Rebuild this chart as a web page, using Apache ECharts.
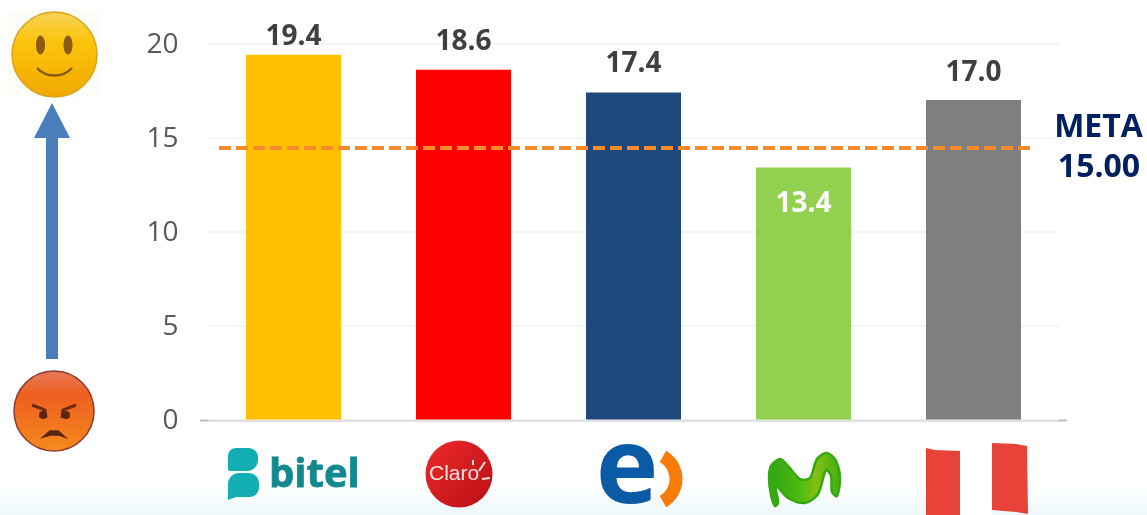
<!DOCTYPE html>
<html>
<head>
<meta charset="utf-8">
<title>Meta 15.00</title>
<style>
  html, body { margin: 0; padding: 0; background: #fff; }
  #chart { width: 1147px; height: 515px; }
</style>
<script src="https://cdn.jsdelivr.net/npm/echarts@6/dist/echarts.min.js"></script>
</head>
<body>
<div id="chart"></div>
<script>
// datos
const categories = ['Bitel', 'Claro', 'Entel', 'Movistar', 'Peru'];
const values = [19.4, 18.6, 17.4, 13.4, 17.0];
const metaDrawn = 14.47;
const metaText = ['META', '15.00'];

const chart = echarts.init(document.getElementById('chart'));
const font = '"Open Sans", sans-serif';

// estilo por barra
const barColors = ['#ffc000', '#ff0000', '#1f497d', '#92d050', '#7f7f7f'];
const labelGaps = [4, 14, 14, -50, 13];

// fondo, flecha, caritas y logos: adornos, no son datos
const decor = [
  { type: 'rect', z: -1, shape: { x: 0, y: 485, width: 1147, height: 30 },
    style: { fill: new echarts.graphic.LinearGradient(0, 0, 0, 1, [
      { offset: 0, color: '#ffffff' }, { offset: 1, color: '#edf8fb' }]) } },
  { type: 'line', shape: { x1: 200, y1: 420.5, x2: 1067, y2: 420.5 }, style: { stroke: '#bfbfbf', lineWidth: 2 } },

  // flecha
  { type: 'rect', shape: { x: 46, y: 136, width: 12, height: 223 }, style: { fill: '#4a7ebb' } },
  { type: 'polygon', shape: { points: [[52, 103], [70, 138], [34, 138]] }, style: { fill: '#4a7ebb' } },

  // carita feliz
  { type: 'rect', shape: { x: 8, y: 10, width: 90, height: 87 }, style: { fill: '#fdfdf8' } },
  { type: 'circle', shape: { cx: 54.5, cy: 54.5, r: 42.5 },
    style: { fill: new echarts.graphic.LinearGradient(0, 0, 0, 1, [
      { offset: 0, color: '#f5d35a' }, { offset: 0.35, color: '#fcc40c' }, { offset: 1, color: '#f0a800' }]),
      stroke: '#d9a520', lineWidth: 1.5 } },
  { type: 'ellipse', shape: { cx: 40.5, cy: 45, rx: 4.5, ry: 9.5 }, style: { fill: '#8a5a10' } },
  { type: 'ellipse', shape: { cx: 68, cy: 45, rx: 4.5, ry: 9.5 }, style: { fill: '#8a5a10' } },
  { type: 'bezierCurve', shape: { x1: 37, y1: 68, cpx1: 46, cpy1: 78, cpx2: 63, cpy2: 78, x2: 72, y2: 68 },
    style: { stroke: '#8a5a10', fill: 'none', lineWidth: 2.5 } },

  // carita enojada
  { type: 'circle', shape: { cx: 54, cy: 411, r: 40 },
    style: { fill: new echarts.graphic.LinearGradient(0, 0, 0, 1, [
      { offset: 0, color: '#e8795a' }, { offset: 0.3, color: '#ee5f20' }, { offset: 1, color: '#f58a1c' }]),
      stroke: '#8c3a2c', lineWidth: 1.5 } },
  { type: 'polyline', shape: { points: [[32, 405], [45, 410], [46, 418]] }, style: { stroke: '#6e2a10', fill: 'none', lineWidth: 3 } },
  { type: 'polyline', shape: { points: [[76, 405], [63, 410], [62, 418]] }, style: { stroke: '#6e2a10', fill: 'none', lineWidth: 3 } },
  { type: 'circle', shape: { cx: 43, cy: 415, r: 4 }, style: { fill: '#5a2410' } },
  { type: 'circle', shape: { cx: 66, cy: 415, r: 4 }, style: { fill: '#5a2410' } },
  { type: 'polygon', shape: { points: [[43, 437], [50, 431], [58, 431], [65, 437], [59, 435], [50, 435]] },
    style: { fill: '#5a2410', stroke: '#5a2410', lineWidth: 1.5 } },

  // bitel
  { type: 'rect', shape: { x: 228, y: 448, width: 30, height: 23, r: [8, 9, 11, 2] }, style: { fill: '#12aeb1' } },
  { type: 'rect', shape: { x: 228, y: 473, width: 31, height: 24, r: [11, 10, 9, 2] }, style: { fill: '#12aeb1' } },
  { type: 'polygon', shape: { points: [[228, 490], [236, 497], [228, 500]] }, style: { fill: '#12aeb1' } },
  { type: 'text', style: { x: 269, y: 496, text: 'bitel', fill: '#12898f', stroke: '#12898f', lineWidth: 0.8, font: 'bold 40px ' + font, textVerticalAlign: 'bottom' } },

  // claro
  { type: 'circle', shape: { cx: 459, cy: 474, r: 33.5 },
    style: { fill: new echarts.graphic.LinearGradient(0, 0, 1, 1, [
      { offset: 0, color: '#ee2a2a' }, { offset: 1, color: '#b80f14' }]) } },
  { type: 'text', style: { x: 429, y: 474, text: 'Claro', fill: '#fbe3e0', font: '21px "Liberation Sans", sans-serif', textVerticalAlign: 'middle' } },
  { type: 'line', shape: { x1: 473, y1: 460, x2: 473, y2: 465 }, style: { stroke: '#fbe3e0', lineWidth: 2 } },
  { type: 'line', shape: { x1: 479, y1: 471, x2: 485, y2: 462 }, style: { stroke: '#fbe3e0', lineWidth: 2 } },
  { type: 'line', shape: { x1: 482, y1: 479, x2: 490, y2: 478 }, style: { stroke: '#fbe3e0', lineWidth: 2 } },

  // entel
  { type: 'text', style: { x: 627, y: 473, text: 'e', fill: '#0b5aa6', font: 'bold 106px ' + font, textAlign: 'center', textVerticalAlign: 'middle' } },
  { type: 'arc', shape: { cx: 650, cy: 479, r: 26, startAngle: -1.05, endAngle: 1.05 },
    style: { stroke: '#f97c0a', fill: 'none', lineWidth: 13 } },

  // movistar
  { type: 'polygon', shape: { smooth: 0.3, points: [[775, 506], [778, 503], [776, 486], [788, 498], [805, 503], [818, 494], [826, 470], [831, 476], [832, 492], [837, 496], [840, 478], [836, 461], [827, 453], [817, 459], [810, 478], [800, 479], [788, 466], [780, 459], [771, 466], [769, 478], [771, 495]] },
    style: { stroke: '#35a80f', lineWidth: 2.5, lineJoin: 'round', fill: new echarts.graphic.LinearGradient(0, 0, 1, 0, [
      { offset: 0, color: '#2fa512' }, { offset: 0.45, color: '#4fbb10' }, { offset: 0.65, color: '#86bf14' }, { offset: 1, color: '#3fae12' }]) } },

  // bandera
  { type: 'rect', shape: { x: 960, y: 446, width: 32, height: 69 }, style: { fill: '#ffffff' } },
  { type: 'polygon', shape: { points: [[926, 448], [935, 450], [960, 451], [960, 515], [926, 515]] }, style: { fill: '#e84338' } },
  { type: 'polygon', shape: { points: [[992, 443], [1016, 444], [1027, 446], [1028, 514], [1016, 512], [992, 510]] }, style: { fill: '#e84338' } },

  // texto de la meta
  { type: 'text', style: { x: 1098.5, y: 128, text: metaText[0], fill: '#002060', font: 'bold 32px ' + font, textAlign: 'center', textVerticalAlign: 'middle' } },
  { type: 'text', style: { x: 1099, y: 168, text: metaText[1], fill: '#002060', font: 'bold 32px ' + font, textAlign: 'center', textVerticalAlign: 'middle' } }
];

const option = {
  animation: false,
  backgroundColor: '#ffffff',
  grid: { left: 208.5, right: 88.5, top: 43.5, bottom: 95.5 },
  xAxis: {
    type: 'category',
    data: categories,
    axisLine: { show: false },
    axisTick: { show: false },
    axisLabel: { show: false }
  },
  yAxis: {
    type: 'value',
    min: 0,
    max: 20,
    interval: 5,
    axisLine: { show: false },
    axisTick: { show: false },
    axisLabel: {
      margin: 30,
      formatter: '{t|{value}}',
      rich: { t: { color: '#595959', fontSize: 28, fontFamily: font, padding: [4, 0, 0, 0] } }
    },
    splitLine: { lineStyle: { color: '#f0f0f0', width: 1.5 } }
  },
  series: [{
    type: 'bar',
    barWidth: 95,
    data: values.map((v, i) => ({
      value: v,
      itemStyle: { color: barColors[i] },
      label: {
        show: true,
        position: 'top',
        distance: labelGaps[i],
        color: v < 15 ? '#ffffff' : '#404040',
        fontSize: 28,
        fontWeight: 'bold',
        fontFamily: font,
        formatter: p => p.value.toFixed(1)
      }
    })),
    markLine: {
      silent: true,
      symbol: 'none',
      label: { show: false },
      lineStyle: { color: '#f58b2a', type: [12, 5], width: 4, opacity: 1 },
      data: [[{ x: 219, yAxis: metaDrawn }, { x: 1031, yAxis: metaDrawn }]]
    }
  }],
  graphic: { elements: decor }
};

chart.setOption(option);
</script>
</body>
</html>
